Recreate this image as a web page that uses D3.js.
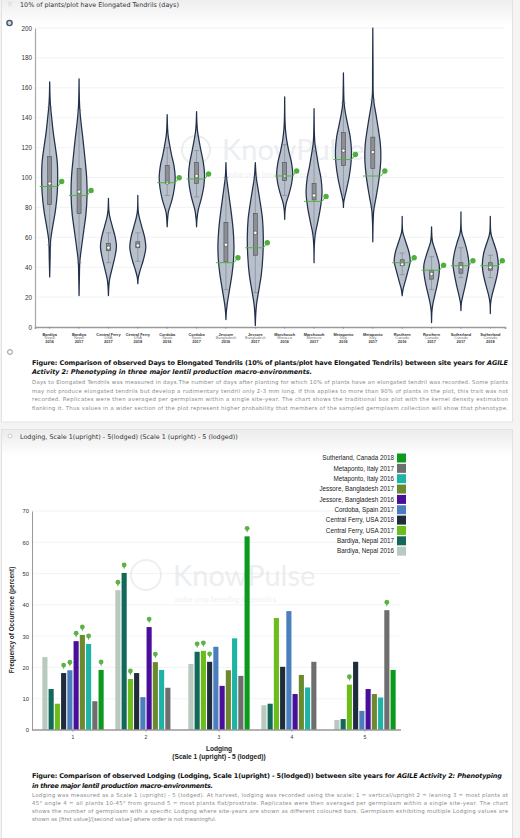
<!DOCTYPE html>
<html><head><meta charset="utf-8">
<script src="https://cdn.jsdelivr.net/npm/d3@7"></script>
<style>
body{margin:0;background:#fff;}
svg{display:block;}
</style>
</head><body>
<svg id="c" width="520" height="838"></svg>
<script>
// ---------------- DATA: violin chart ----------------
const sites = ["Bardiya","Bardiya","Central Ferry","Central Ferry","Cordoba","Cordoba","Jessore","Jessore","Marchouch","Marchouch","Metaponto","Metaponto","Rosthern","Rosthern","Sutherland","Sutherland"];
const countries = ["Nepal","Nepal","USA","USA","Spain","Spain","Bangladesh","Bangladesh","Morocco","Morocco","Italy","Italy","Canada","Canada","Canada","Canada"];
const years = ["2016","2017","2017","2018","2016","2017","2016","2017","2016","2017","2016","2017","2016","2017","2017","2018"];
const boxQ1     = [82, 76, 51, 53, 96, 96, 43.5, 48, 98, 85, 108, 106, 41, 32, 36, 38];
const boxMedian = [96, 90.5, 53, 54.5, 96.5, 101, 55, 63, 101, 88, 118, 117, 42, 35.5, 40, 40];
const boxQ3     = [114, 106, 56, 57, 108, 110, 70, 76, 110, 96, 130, 127, 45, 38, 43, 43];
const whiskerLow  = [55, 43, 43, 44, 88, 87, 25, 23, 88, 62, 88, 80, 35, 25, 33, 33];
const whiskerHigh = [147, 145, 63, 63, 120, 118, 100, 100, 122, 118, 150, 152, 49.5, 47, 53, 48];
const checkValue  = [94, 88, null, null, 96.5, 99, 43, 53, 101, 84, 112, 101, 43, 38, 41, 41];
// kernel density profiles: [value, relative width]
const densityProfiles = [
  [[33.5,0],[45,0.05],[58,0.12],[68,0.4],[78,0.72],[90,0.95],[100,1],[110,0.95],[120,0.72],[130,0.45],[140,0.25],[148,0.1],[154,0.04],[164,0]],
  [[21,0],[33,0.04],[44,0.1],[55,0.35],[65,0.6],[75,0.85],[88,1],[100,0.95],[112,0.75],[125,0.5],[135,0.28],[145,0.1],[152,0.04],[166,0]],
  [[21,0],[27,0.05],[32,0.15],[40,0.5],[48,0.85],[54,1],[60,0.85],[67,0.5],[73,0.2],[77,0.07],[86,0]],
  [[29,0],[33,0.06],[38,0.3],[45,0.7],[53,1],[60,0.85],[67,0.5],[73,0.2],[77,0.06],[88,0]],
  [[67,0],[72,0.05],[77,0.15],[85,0.6],[93,0.9],[100,1],[108,0.85],[115,0.55],[122,0.3],[128,0.12],[133,0.05],[142,0]],
  [[67,0],[72,0.05],[78,0.2],[86,0.6],[94,0.9],[102,1],[110,0.85],[118,0.55],[125,0.3],[131,0.12],[136,0.05],[144,0]],
  [[5,0],[10,0.05],[15,0.15],[25,0.45],[35,0.75],[45,0.95],[55,1],[65,0.9],[75,0.7],[85,0.45],[95,0.2],[100,0.08],[110,0]],
  [[1,0],[8,0.05],[15,0.15],[25,0.45],[35,0.75],[48,0.95],[60,1],[72,0.9],[82,0.65],[92,0.35],[100,0.12],[105,0.05],[110,0]],
  [[72,0],[78,0.05],[83,0.2],[90,0.6],[97,0.9],[103,1],[110,0.85],[118,0.5],[125,0.25],[132,0.1],[138,0.04],[154,0]],
  [[43,0],[55,0.04],[62,0.15],[70,0.45],[80,0.8],[90,1],[100,0.85],[108,0.55],[116,0.3],[122,0.12],[128,0.05],[146,0]],
  [[80,0],[84,0.05],[90,0.3],[100,0.7],[110,0.95],[118,1],[127,0.85],[135,0.55],[143,0.25],[150,0.08],[156,0.04],[170,0]],
  [[57,0],[70,0.04],[78,0.12],[88,0.45],[100,0.8],[112,1],[122,0.95],[132,0.7],[142,0.4],[150,0.15],[156,0.05],[170,0.03],[200,0]],
  [[21,0],[25,0.1],[30,0.35],[37,0.7],[44,1],[50,0.85],[56,0.5],[61,0.2],[64,0.06],[74,0]],
  [[3,0],[10,0.04],[14,0.12],[20,0.35],[28,0.7],[36,0.95],[42,0.95],[48,0.65],[53,0.35],[57,0.12],[60,0.05],[67,0]],
  [[11,0],[16,0.05],[20,0.2],[28,0.55],[36,0.85],[42,1],[50,0.8],[57,0.45],[62,0.15],[65,0.05],[77,0]],
  [[9,0],[16,0.04],[21,0.2],[28,0.55],[36,0.9],[42,1],[50,0.8],[56,0.45],[61,0.15],[64,0.05],[74,0]]
];
const yTicksTop = [0,20,40,60,80,100,120,140,160,180,200];

// ---------------- DATA: lodging bar chart ----------------
const lodgingCategories = ["1","2","3","4","5"];
const seriesNames = ["Bardiya, Nepal 2016","Bardiya, Nepal 2017","Central Ferry, USA 2017","Central Ferry, USA 2018","Cordoba, Spain 2017","Jessore, Bangladesh 2016","Jessore, Bangladesh 2017","Metaponto, Italy 2016","Metaponto, Italy 2017","Sutherland, Canada 2018"];
const seriesColors = ["#b8c9bf","#12695a","#6cbd1c","#1f2c3b","#4a7ebd","#4a0f9a","#6b8a2e","#1db4a5","#6e6e6e","#0c9a1c"];
const bardiyaNepal2016      = [23.3, 44.7, 21.1, 7.9, 3.2];
const bardiyaNepal2017      = [13.1, 50.2, 25.0, 8.4, 3.5];
const centralFerryUSA2017   = [8.4, 16.3, 25.3, 35.8, 14.5];
const centralFerryUSA2018   = [18.2, 18.2, 21.8, 20.2, 21.8];
const cordobaSpain2017      = [19.1, 10.5, 26.6, 38.0, 6.1];
const jessoreBangladesh2016 = [28.4, 32.9, 14.1, 11.5, 13.1];
const jessoreBangladesh2017 = [30.4, 21.7, 19.1, 17.6, 11.5];
const metapontoItaly2016    = [27.5, 19.2, 29.3, 13.6, 10.4];
const metapontoItaly2017    = [9.2, 13.5, 17.3, 21.8, 38.3];
const sutherlandCanada2018  = [19.2, 0, 61.9, 0, 19.2];
const seriesValues = [bardiyaNepal2016, bardiyaNepal2017, centralFerryUSA2017, centralFerryUSA2018, cordobaSpain2017, jessoreBangladesh2016, jessoreBangladesh2017, metapontoItaly2016, metapontoItaly2017, sutherlandCanada2018];
// green pin markers per series (1 = marked) for categories 1..5
const pinFlags = [
  [0,1,0,0,0],[0,1,1,0,0],[0,1,1,0,1],[1,0,1,0,0],[1,0,0,0,0],
  [1,1,0,0,0],[1,1,0,0,0],[1,0,0,0,0],[0,0,0,0,1],[1,0,1,0,0]
];
const yTicksBottom = [0,10,20,30,40,50,60,70];

// ---------------- TEXT ----------------
const cap1Body = [
 "Days to Elongated Tendrils was measured in days.The number of days after planting for which 10% of plants have an elongated tendril was recorded. Some plants",
 "may not produce elongated tendrils but develop a rudimentary tendril only 2-3 mm long. If this applies to more than 90% of plants in the plot, this trait was not",
 "recorded. Replicates were then averaged per germplasm within a single site-year. The chart shows the traditional box plot with the kernel density estimation",
 "flanking it. Thus values in a wider section of the plot represent higher probability that members of the sampled germplasm collection will show that phenotype."
];
const cap2Body = [
 "Lodging was measured as a Scale 1 (upright) - 5 (lodged). At harvest, lodging was recorded using the scale: 1 = vertical/upright 2 = leaning 3 = most plants at",
 "45° angle 4 = all plants 10-45° from ground 5 = most plants flat/prostrate. Replicates were then averaged per germplasm within a single site-year. The chart",
 "shows the number of germplasm with a specific Lodging where site-years are shown as different coloured bars. Germplasm exhibiting multiple Lodging values are",
 "shown as [first value]/[second value] where order is not meaningful."
];

// ---------------- DRAW ----------------
const svg = d3.select("#c");
const VERD = "'DejaVu Sans', Verdana, sans-serif";
const HELV = "'Liberation Sans', Arial, Helvetica, sans-serif";

const defs = svg.append("defs");
const g1 = defs.append("linearGradient").attr("id","hdr").attr("x1",0).attr("y1",0).attr("x2",0).attr("y2",1);
g1.append("stop").attr("offset","0%").attr("stop-color","#ececec");
g1.append("stop").attr("offset","100%").attr("stop-color","#ffffff");

svg.append("rect").attr("width",520).attr("height",838).attr("fill","#f4f4f4");
// panels
svg.append("rect").attr("x",1.5).attr("y",-4).attr("width",511).attr("height",426).attr("fill","#fff").attr("stroke","#e2e2e2");
svg.append("rect").attr("x",1.5).attr("y",429.5).attr("width",511).attr("height",412).attr("fill","#fff").attr("stroke","#e2e2e2");
svg.append("rect").attr("x",2).attr("y",-3).attr("width",510).attr("height",28).attr("fill","url(#hdr)");
svg.append("rect").attr("x",2).attr("y",430).attr("width",510).attr("height",26).attr("fill","url(#hdr)");

// headers
svg.append("text").attr("x",8).attr("y",6).attr("font-size",5).attr("fill","#aaa").attr("font-family",VERD).text("▽");
svg.append("text").attr("x",20).attr("y",6.5).attr("font-size",6.4).attr("fill","#333").attr("font-family",VERD).text("10% of plants/plot have Elongated Tendrils (days)");
svg.append("circle").attr("cx",9.5).attr("cy",23).attr("r",2.6).attr("fill","#cfd4de").attr("stroke","#46546e").attr("stroke-width",1.4);
svg.append("circle").attr("cx",10).attr("cy",352).attr("r",2.4).attr("fill","#fff").attr("stroke","#7a8294").attr("stroke-width",0.9);
svg.append("circle").attr("cx",10).attr("cy",436).attr("r",2).attr("fill","#fff").attr("stroke","#bbb").attr("stroke-width",0.7);
svg.append("text").attr("x",20).attr("y",438.5).attr("font-size",6.4).attr("fill","#333").attr("font-family",VERD).text("Lodging, Scale 1(upright) - 5(lodged) (Scale 1 (upright) - 5 (lodged))");

// ---- violin chart ----
const yT = d3.scaleLinear().domain([0,200]).range([327,28]);
const xT = d3.scaleBand().domain(d3.range(sites.length)).range([35,505]);
const wT = d3.scaleLinear().domain([0,1]).range([0,8]);

// grid
svg.append("g").selectAll("line").data(yTicksTop.slice(1)).join("line")
  .attr("x1",35).attr("x2",505).attr("y1",d=>yT(d)).attr("y2",d=>yT(d))
  .attr("stroke","#eef0f2").attr("stroke-width",0.8);

// watermark
const wm1 = svg.append("g").attr("opacity",0.55);
wm1.append("circle").attr("cx",196).attr("cy",150).attr("r",14).attr("fill","none").attr("stroke","#d8e4d8").attr("stroke-width",2);
wm1.append("text").attr("x",222).attr("y",160).attr("font-size",29).attr("font-family","Lato, sans-serif").attr("fill","#dde2e6").text("KnowPulse");
wm1.append("text").attr("x",226).attr("y",177).attr("font-size",7.5).attr("font-family","Lato, sans-serif").attr("fill","#e2e6e8").text("pulse crop breeding & genetics");

// y axis
const yAxT = svg.append("g").attr("transform","translate(35,0)")
  .call(d3.axisLeft(yT).tickValues(yTicksTop).tickSize(0).tickPadding(3));
yAxT.select(".domain").attr("stroke","#a9a9a9").attr("stroke-width",1.2);
yAxT.selectAll("text").attr("font-size",6.3).attr("font-family",HELV).attr("fill","#333");

// x axis
const xAxT = svg.append("g").attr("transform","translate(0,327)")
  .call(d3.axisBottom(xT).tickSize(2).tickFormat(""));
xAxT.select(".domain").attr("stroke","#9a9a9a").attr("stroke-width",1.6);
xAxT.selectAll(".tick line").attr("stroke","#777").attr("stroke-width",0.5);
const lbl = svg.append("g").attr("font-family",HELV).attr("text-anchor","middle");
sites.forEach((s,i)=>{
  const cx = xT(i)+xT.bandwidth()/2;
  lbl.append("text").attr("x",cx).attr("y",335.5).attr("font-size",3.9).attr("font-weight","bold").attr("fill","#333").text(s);
  lbl.append("text").attr("x",cx).attr("y",339).attr("font-size",3.9).attr("fill","#777").text(countries[i]);
  lbl.append("text").attr("x",cx).attr("y",342.6).attr("font-size",3.9).attr("font-weight","bold").attr("fill","#333").text(years[i]);
});

// violins
const vg = svg.append("g");
sites.forEach((s,i)=>{
  const cx = xT(i)+xT.bandwidth()/2;
  const area = d3.area().curve(d3.curveCatmullRom.alpha(0.5))
    .y(d=>yT(d[0])).x0(d=>cx-wT(d[1])).x1(d=>cx+wT(d[1]));
  vg.append("path").attr("d",area(densityProfiles[i]))
    .attr("fill","#b8c0cc").attr("stroke","#22304a").attr("stroke-width",1.25).attr("stroke-linejoin","round");
  const wk = vg.append("g").attr("stroke","#6f7480").attr("stroke-width",0.5);
  wk.append("line").attr("x1",cx).attr("x2",cx).attr("y1",yT(whiskerLow[i])).attr("y2",yT(whiskerHigh[i]));
  wk.append("line").attr("x1",cx-2.5).attr("x2",cx+2.5).attr("y1",yT(whiskerLow[i])).attr("y2",yT(whiskerLow[i]));
  wk.append("line").attr("x1",cx-2.5).attr("x2",cx+2.5).attr("y1",yT(whiskerHigh[i])).attr("y2",yT(whiskerHigh[i]));
  vg.append("rect").attr("x",cx-2).attr("width",4)
    .attr("y",yT(boxQ3[i])).attr("height",yT(boxQ1[i])-yT(boxQ3[i]))
    .attr("fill","#8d8f94").attr("stroke","#4a4d55").attr("stroke-width",0.6);
  vg.append("circle").attr("cx",cx).attr("cy",yT(boxMedian[i])).attr("r",1.7)
    .attr("fill","#fff").attr("stroke","#333").attr("stroke-width",0.5);
  if (checkValue[i] !== null) {
    const yy = yT(checkValue[i]);
    vg.append("path").attr("d",`M${cx-10},${yy}L${cx+8},${yy}L${cx+12},${yy-5}`)
      .attr("fill","none").attr("stroke","#55b044").attr("stroke-width",1);
    vg.append("circle").attr("cx",cx+12).attr("cy",yy-5).attr("r",2.7).attr("fill","#4db03a");
  }
});

// ---- text helper ----
function textLine(x,y,parts,size,fill,width,family){
  const t = svg.append("text").attr("x",x).attr("y",y).attr("font-size",size).attr("fill",fill).attr("font-family",family||VERD);
  parts.forEach(p=>{
    t.append("tspan").attr("font-weight",p.b?"bold":null).attr("font-style",p.i?"italic":null).text(p.t);
  });
  if (width) t.attr("textLength",width).attr("lengthAdjust","spacing");
  return t;
}
// caption 1
textLine(32,364.5,[{t:"Figure: Comparison of observed Days to Elongated Tendrils (10% of plants/plot have Elongated Tendrils) between site years for ",b:1},{t:"AGILE",b:1,i:1}],6.5,"#111",476);
textLine(32,374,[{t:"Activity 2: Phenotyping in three major lentil production macro-environments.",b:1,i:1}],6.5,"#111",280);
cap1Body.forEach((l,k)=>textLine(32,384+k*8.6,[{t:l}],5.4,"#8a8a8a",476));

// ---- bar chart ----
const yB = d3.scaleLinear().domain([0,70]).range([730,511]);
const xB = d3.scaleBand().domain(lodgingCategories).range([36.5,401.5]).paddingInner(0.16).paddingOuter(0.08);
const xS = d3.scaleBand().domain(d3.range(seriesNames.length)).range([0,xB.bandwidth()]).paddingInner(0.18);

svg.append("g").selectAll("line").data(yTicksBottom.slice(1)).join("line")
  .attr("x1",32).attr("x2",400).attr("y1",d=>yB(d)).attr("y2",d=>yB(d))
  .attr("stroke","#eef0f2").attr("stroke-width",0.8);

const wm2 = svg.append("g").attr("opacity",0.55);
wm2.append("circle").attr("cx",146).attr("cy",575).attr("r",15).attr("fill","none").attr("stroke","#dfe6df").attr("stroke-width",2);
wm2.append("text").attr("x",173).attr("y",586).attr("font-size",29).attr("font-family","Lato, sans-serif").attr("fill","#dde2e6").text("KnowPulse");
wm2.append("text").attr("x",175).attr("y",602).attr("font-size",7.5).attr("font-family","Lato, sans-serif").attr("fill","#e2e6e8").text("pulse crop breeding & genetics");

const bars = svg.append("g");
seriesValues.forEach((vals,s)=>{
  bars.selectAll(null).data(vals).join("rect")
    .attr("x",(d,c)=>xB(lodgingCategories[c])+xS(s))
    .attr("width",xS.bandwidth())
    .attr("y",d=>yB(d)).attr("height",d=>yB(0)-yB(d))
    .attr("fill",seriesColors[s]);
});
const pins = svg.append("g").attr("fill","#5cb247");
seriesValues.forEach((vals,s)=>{
  vals.forEach((v,c)=>{
    if (!pinFlags[s][c]) return;
    const cx = xB(lodgingCategories[c])+xS(s)+xS.bandwidth()/2;
    const top = yB(v);
    pins.append("circle").attr("cx",cx).attr("cy",top-8).attr("r",2.4);
    pins.append("path").attr("d",`M${cx-1.2},${top-7}L${cx+1.2},${top-7}L${cx},${top-3.5}Z`);
  });
});

const yAxB = svg.append("g").attr("transform","translate(32,0)")
  .call(d3.axisLeft(yB).tickValues(yTicksBottom).tickSize(0).tickPadding(3));
yAxB.select(".domain").attr("stroke","#999").attr("stroke-width",1);
yAxB.selectAll("text").attr("font-size",5.8).attr("font-family",HELV).attr("fill","#333");
const xAxB = svg.append("g").attr("transform","translate(0,730)")
  .call(d3.axisBottom(xB).tickSize(2).tickPadding(3));
xAxB.select(".domain").attr("stroke","#999").attr("stroke-width",1.4).attr("d","M32,0H401");
xAxB.selectAll(".tick line").attr("stroke","#777").attr("stroke-width",0.5);
xAxB.selectAll("text").attr("font-size",5).attr("font-family",HELV).attr("fill","#333");

svg.append("text").attr("transform","translate(14,620) rotate(-90)").attr("text-anchor","middle")
  .attr("font-size",6.4).attr("font-weight","bold").attr("font-family",HELV).attr("fill","#222")
  .text("Frequency of Occurrence (percent)");
svg.append("text").attr("x",219).attr("y",751).attr("text-anchor","middle").attr("font-size",6.6).attr("font-weight","bold").attr("font-family",HELV).attr("fill","#222").text("Lodging");
svg.append("text").attr("x",219).attr("y",759).attr("text-anchor","middle").attr("font-size",6.6).attr("font-weight","bold").attr("font-family",HELV).attr("fill","#222").text("(Scale 1 (upright) - 5 (lodged))");

const lg = svg.append("g").attr("font-family",HELV).attr("font-size",6.3);
const order = d3.range(seriesNames.length).reverse();
order.forEach((s,k)=>{
  const y = 458 + k*10.35;
  lg.append("rect").attr("x",397).attr("y",y-4.5).attr("width",9).attr("height",9).attr("fill",seriesColors[s]);
  lg.append("text").attr("x",394).attr("y",y+2.2).attr("text-anchor","end").attr("fill","#222").text(seriesNames[s]);
});

// caption 2
textLine(32,778,[{t:"Figure: Comparison of observed Lodging (Lodging, Scale 1(upright) - 5(lodged)) between site years for ",b:1},{t:"AGILE Activity 2: Phenotyping",b:1,i:1}],6.5,"#111",470);
textLine(32,788,[{t:"in three major lentil production macro-environments.",b:1,i:1}],6.5,"#111",181);
cap2Body.forEach((l,k)=>textLine(32,797+k*8,[{t:l}],5.4,"#8a8a8a",k<3?476:null));
</script>
</body></html>
